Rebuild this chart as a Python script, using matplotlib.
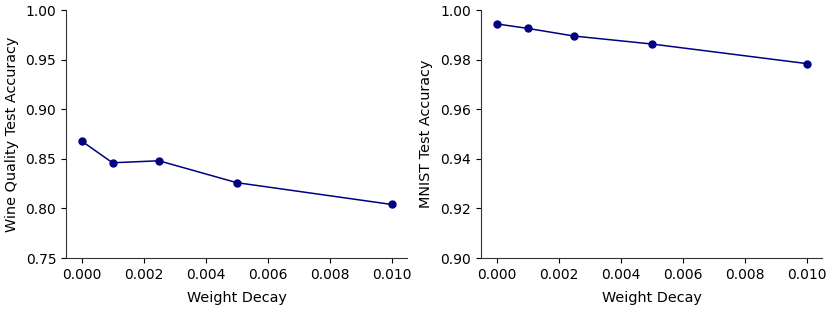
import matplotlib
matplotlib.use("Agg")
import matplotlib.pyplot as plt

weight_decay = [0.0, 0.001, 0.0025, 0.005, 0.01]
wine_acc = [0.868, 0.846, 0.848, 0.826, 0.804]
mnist_acc = [0.9944, 0.9926, 0.9895, 0.9863, 0.9784]

fig = plt.figure(figsize=(8.31, 3.09), dpi=100)
ax1 = fig.add_axes([66/831, 1-258/309, 341/831, 248/309])
ax2 = fig.add_axes([481/831, 1-258/309, 341/831, 248/309])

for ax, acc, ylab, ylim, yt in [
    (ax1, wine_acc, "Wine Quality Test Accuracy", (0.75, 1.0), [0.75, 0.80, 0.85, 0.90, 0.95, 1.00]),
    (ax2, mnist_acc, "MNIST Test Accuracy", (0.90, 1.0), [0.90, 0.92, 0.94, 0.96, 0.98, 1.00]),
]:
    ax.plot(weight_decay, acc, color="navy", marker="o", markersize=5, linewidth=1.1)
    ax.set_ylim(*ylim)
    ax.set_yticks(yt)
    ax.set_xticks([0.0, 0.002, 0.004, 0.006, 0.008, 0.010])
    ax.set_xticklabels(["0.000", "0.002", "0.004", "0.006", "0.008", "0.010"])
    ax.set_yticklabels([f"{v:.2f}" for v in yt])
    ax.set_xlabel("Weight Decay", fontsize=10.4, labelpad=7)
    ax.set_ylabel(ylab, fontsize=10.4, labelpad=5)
    ax.tick_params(labelsize=10)
    ax.spines["top"].set_visible(False)
    ax.spines["right"].set_visible(False)
    for s in ["left", "bottom"]:
        ax.spines[s].set_color("#333333")

fig.savefig("out.png", dpi=100)
